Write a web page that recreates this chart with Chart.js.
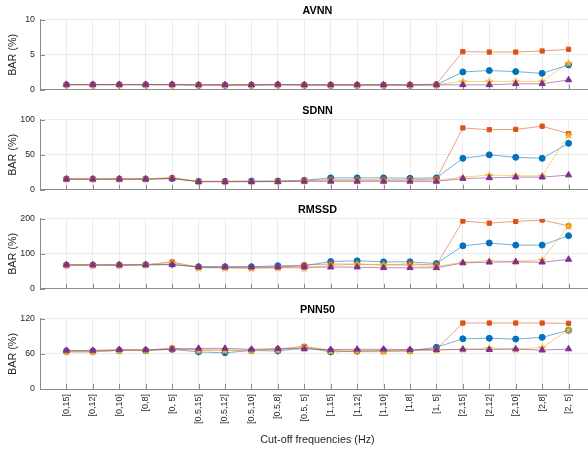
<!DOCTYPE html>
<html>
<head>
<meta charset="utf-8">
<script src="https://cdn.jsdelivr.net/npm/chart.js@4.4.0/dist/chart.umd.min.js"></script>
<style>
html, body { margin: 0; padding: 0; background: #fff; overflow: hidden; }
#wrap { position: relative; width: 588px; height: 449px; overflow: hidden; }
canvas { position: absolute; left: 0; }
</style>
</head>
<body>
<div id="wrap">
  <canvas id="c0" width="600" height="100" style="top:0px"></canvas>
  <canvas id="c1" width="600" height="100" style="top:100px"></canvas>
  <canvas id="c2" width="600" height="100" style="top:199px"></canvas>
  <canvas id="c3" width="600" height="150" style="top:299px"></canvas>
</div>
<script>
// categories
const cutoffs = ['[0,15]', '[0,12]', '[0,10]', '[0,8]', '[0, 5]',
    '[0.5,15]', '[0.5,12]', '[0.5,10]', '[0.5,8]', '[0.5, 5]',
    '[1,15]', '[1,12]', '[1,10]', '[1,8]', '[1, 5]',
    '[2,15]', '[2,12]', '[2,10]', '[2,8]', '[2, 5]'];

// AVNN
const avnnBlue   = [0.7, 0.7, 0.7, 0.7, 0.7, 0.65, 0.65, 0.65, 0.7, 0.65, 0.65, 0.65, 0.65, 0.65, 0.7, 2.55, 2.75, 2.6, 2.35, 3.55];
const avnnOrange = [0.75, 0.75, 0.75, 0.75, 0.75, 0.7, 0.7, 0.7, 0.75, 0.7, 0.7, 0.7, 0.7, 0.7, 0.8, 5.45, 5.4, 5.4, 5.55, 5.8];
const avnnYellow = [0.7, 0.7, 0.7, 0.7, 0.7, 0.65, 0.65, 0.65, 0.7, 0.65, 0.65, 0.65, 0.65, 0.65, 0.7, 1.2, 1.2, 1.2, 1.2, 3.85];
const avnnPurple = [0.75, 0.75, 0.75, 0.75, 0.75, 0.7, 0.7, 0.7, 0.75, 0.7, 0.7, 0.7, 0.7, 0.7, 0.7, 0.7, 0.7, 0.85, 0.85, 1.4];

// SDNN
const sdnnBlue   = [15.5, 15.5, 15.5, 15.5, 16, 12, 12, 12.5, 12.5, 13.5, 17, 17, 17, 16.5, 17, 45, 50, 46.5, 45, 66.5];
const sdnnOrange = [15.5, 15.5, 15.5, 15.5, 17, 11.5, 11.5, 11.5, 12, 13.5, 14, 14, 14, 14, 15.5, 88.5, 86, 86.5, 91, 80.5];
const sdnnYellow = [15.5, 15.5, 15.5, 15.5, 17.5, 12, 12, 12, 12, 13, 13.5, 13.5, 13.5, 13.5, 13.5, 18, 21, 20, 20, 78.5];
const sdnnPurple = [15, 15, 15, 15, 16, 11.5, 11.5, 11.5, 11.5, 12, 12, 12, 12, 12, 12, 16, 17, 18, 18, 21];

// RMSSD
const rmssdBlue   = [68, 68, 68, 69, 70, 63, 63, 63, 66, 66, 78, 80, 77, 77, 72, 123, 131, 125, 125, 152];
const rmssdOrange = [68, 68, 68, 69, 77, 61, 60, 59, 61, 68, 71, 70, 68, 71, 68, 194, 188, 193, 197, 180];
const rmssdYellow = [67, 67, 67, 68, 75, 60, 60, 59, 60, 59, 66, 71, 69, 66, 64, 76, 80, 78, 83, 180];
const rmssdPurple = [68, 68, 68, 68, 69, 62, 62, 62, 62, 62, 62, 62, 60, 60, 60, 74, 76, 77, 76, 84];

// PNN50
const pnnBlue   = [65, 65, 66, 66, 68, 63.5, 62, 66, 65, 71, 63.5, 65, 66, 65.5, 71.5, 86, 87, 85.5, 88.5, 100.5];
const pnnOrange = [63.5, 63.5, 66.5, 66.5, 70, 67, 66.5, 66, 68.5, 73, 66, 64, 64, 65.5, 68.5, 113, 113, 113, 113, 112.5];
const pnnYellow = [64, 64, 66, 66, 69, 66, 66, 66, 67, 72, 65, 66, 65, 65.5, 67, 68, 70, 68, 71, 101.5];
const pnnPurple = [66, 66, 67.5, 67, 68, 69.5, 69.5, 68, 69, 68.5, 67.5, 68, 68, 67.5, 67, 68, 67.5, 68.5, 66.5, 68.5];

// y axis ticks
const avnnTicks = [0, 5, 10];
const sdnnTicks = [0, 50, 100];
const rmssdTicks = [0, 100, 200];
const pnnTicks = [0, 60, 120];

const BLUE = '#0072BD', ORANGE = '#D95319', YELLOW = '#EDB120', PURPLE = '#7E2F8E';
const FONT = 'Arial, "Liberation Sans", sans-serif';

// filled pentagram marker
function makeStar(color) {
    const c = document.createElement('canvas');
    c.width = 10; c.height = 10;
    const g = c.getContext('2d');
    g.beginPath();
    for (let i = 0; i < 10; i++) {
        const r = i % 2 === 0 ? 4.6 : 2;
        const a = -Math.PI / 2 + i * Math.PI / 5;
        g.lineTo(5 + r * Math.cos(a), 5.4 + r * Math.sin(a));
    }
    g.closePath();
    g.fillStyle = color;
    g.fill();
    return c;
}
const starImg = makeStar(YELLOW);

function hexA(hex, a) {
    const n = parseInt(hex.slice(1), 16);
    return `rgba(${n >> 16}, ${(n >> 8) & 255}, ${n & 255}, ${a})`;
}

function series(values, color, style, order, radius) {
    return {
        data: values.map((v, i) => ({ x: i + 1, y: v })),
        borderColor: hexA(color, 0.55),
        borderWidth: 1,
        pointStyle: style,
        pointRadius: radius,
        pointBackgroundColor: color,
        pointBorderColor: color,
        pointBorderWidth: 1,
        order: order,
        tension: 0
    };
}

// small inward tick marks like the original axes
const innerTicks = {
    id: 'innerTicks',
    beforeDatasetsDraw(chart) {
        const ctx = chart.ctx;
        const xs = chart.scales.x, ys = chart.scales.y;
        const area = chart.chartArea;
        ctx.save();
        ctx.strokeStyle = '#8a8a8a';
        ctx.lineWidth = 1;
        ctx.beginPath();
        xs.ticks.forEach(t => {
            const px = Math.round(xs.getPixelForValue(t.value)) + 0.5;
            ctx.moveTo(px, area.bottom);
            ctx.lineTo(px, area.bottom - 5);
        });
        ys.ticks.forEach(t => {
            const py = Math.round(ys.getPixelForValue(t.value)) + 0.5;
            ctx.moveTo(area.left, py);
            ctx.lineTo(area.left + 5, py);
        });
        ctx.stroke();
        ctx.restore();
    }
};

function makeChart(id, title, data, yTicks, bottom) {
    const ctx = document.getElementById(id).getContext('2d');
    return new Chart(ctx, {
        type: 'line',
        data: {
            datasets: [
                series(data[0], BLUE, 'circle', 4, 3),
                series(data[1], ORANGE, 'rect', 3, 3),
                series(data[2], YELLOW, starImg, 2, 3),
                series(data[3], PURPLE, 'triangle', 1, 3.6)
            ]
        },
        options: {
            responsive: false,
            animation: false,
            layout: { padding: { left: 0, right: 4, top: 0, bottom: 0 } },
            plugins: {
                legend: { display: false },
                tooltip: { enabled: false },
                title: {
                    display: true,
                    text: title,
                    fullSize: false,
                    color: '#000',
                    font: { family: FONT, size: 10.8, weight: 'bold' },
                    padding: { top: 5, bottom: 2 }
                }
            },
            scales: {
                x: {
                    type: 'linear',
                    min: 0,
                    max: 21,
                    afterBuildTicks: s => { s.ticks = cutoffs.map((_, i) => ({ value: i + 1 })); },
                    afterFit: s => { s.height = bottom ? 60 : 10; },
                    grid: { color: '#ebebeb', drawTicks: false },
                    border: { color: '#8c8c8c' },
                    ticks: {
                        display: bottom,
                        autoSkip: false,
                        minRotation: 90,
                        maxRotation: 90,
                        padding: 5,
                        color: '#262626',
                        font: { family: FONT, size: 9 },
                        callback: v => cutoffs[v - 1] || ''
                    },
                    title: {
                        display: bottom,
                        text: 'Cut-off frequencies (Hz)',
                        color: '#262626',
                        font: { family: FONT, size: 10.8 },
                        padding: { top: 0, bottom: 2 }
                    }
                },
                y: {
                    min: yTicks[0],
                    max: yTicks[yTicks.length - 1],
                    afterBuildTicks: s => { s.ticks = yTicks.map(v => ({ value: v })); },
                    afterFit: s => { s.width = 40; },
                    grid: { color: '#ebebeb', drawTicks: false },
                    border: { color: '#8c8c8c' },
                    ticks: {
                        padding: 5,
                        color: '#262626',
                        font: { family: FONT, size: 8.8 }
                    },
                    title: {
                        display: true,
                        text: 'BAR (%)',
                        color: '#262626',
                        font: { family: FONT, size: 10.8 },
                        padding: { top: 7, bottom: 0 }
                    }
                }
            }
        },
        plugins: [innerTicks]
    });
}

makeChart('c0', 'AVNN', [avnnBlue, avnnOrange, avnnYellow, avnnPurple], avnnTicks, false);
makeChart('c1', 'SDNN', [sdnnBlue, sdnnOrange, sdnnYellow, sdnnPurple], sdnnTicks, false);
makeChart('c2', 'RMSSD', [rmssdBlue, rmssdOrange, rmssdYellow, rmssdPurple], rmssdTicks, false);
makeChart('c3', 'PNN50', [pnnBlue, pnnOrange, pnnYellow, pnnPurple], pnnTicks, true);
</script>
</body>
</html>
